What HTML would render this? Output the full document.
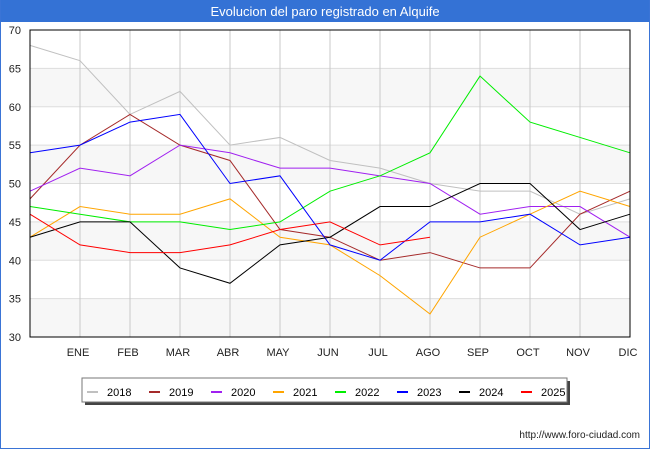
<!DOCTYPE html>
<html><head><meta charset="utf-8"><style>
body{margin:0;background:#fff;font-family:"Liberation Sans","DejaVu Sans",sans-serif;}
#wrap{position:relative;width:648px;height:448px;border:1px solid #3a74d6;border-top:none;}
#title{position:absolute;left:0;top:0;width:648px;height:22px;background:#3472d5;color:#fff;font-size:13px;text-align:center;line-height:23px;}
</style></head><body>
<div id="wrap">
<div id="title">Evolucion del paro registrado en Alquife</div>
<svg id="chart" width="650" height="450" style="position:absolute;left:-1px;top:0"></svg>
</div>
<script>
const months=["","ENE","FEB","MAR","ABR","MAY","JUN","JUL","AGO","SEP","OCT","NOV","DIC"];
const yTicks=[30,35,40,45,50,55,60,65,70];
const years=["2018","2019","2020","2021","2022","2023","2024","2025"];
const colors=["#c0c0c0","#a52a2a","#a020f0","#ffa500","#00ee00","#0000ff","#000000","#ff0000"];
const s2018=[68,66,59,62,55,56,53,52,50,49,49,46,48];
const s2019=[48,55,59,55,53,44,43,40,41,39,39,46,49];
const s2020=[49,52,51,55,54,52,52,51,50,46,47,47,43];
const s2021=[43,47,46,46,48,43,42,38,33,43,46,49,47];
const s2022=[47,46,45,45,44,45,49,51,54,64,58,56,54];
const s2023=[54,55,58,59,50,51,42,40,45,45,46,42,43];
const s2024=[43,45,45,39,37,42,43,47,47,50,50,44,46];
const s2025=[46,42,41,41,42,44,45,42,43];
const series=[s2018,s2019,s2020,s2021,s2022,s2023,s2024,s2025];
const L=30,R=630,T=30,B=337;
const x=i=>L+i*(R-L)/12;
const y=v=>B-(v-30)*(B-T)/40;
const svg=document.getElementById('chart');
const NS="http://www.w3.org/2000/svg";
function mk(t,a,p){const e=document.createElementNS(NS,t);for(const k in a)e.setAttribute(k,a[k]);(p||svg).appendChild(e);return e;}
for(let i=0;i<yTicks.length-1;i++){
  if(i%2===0){const r=mk('rect',{x:L,y:y(yTicks[i+1]),width:R-L,height:y(yTicks[i])-y(yTicks[i+1]),fill:'#f7f7f7'});
  
  }
}
yTicks.forEach(v=>{
  const g=mk('line',{x1:L,x2:R,y1:y(v),y2:y(v),stroke:'#dddddd','stroke-width':1});
  
  
  const t=mk('text',{x:L-9,y:y(v)+4,'text-anchor':'end','font-size':11,fill:'#222'});t.textContent=v;
  
  
});
months.forEach((m,i)=>{
  if(i===0)return;
  const g=mk('line',{x1:x(i),x2:x(i),y1:T,y2:B,stroke:'#c8c8c8','stroke-width':1});
  
  
  const t=mk('text',{x:x(i)-2,y:356,'text-anchor':'middle','font-size':11,fill:'#222'});t.textContent=m;
  
  
});
series.forEach((s,k)=>{
  const p=mk('polyline',{points:s.map((v,i)=>x(i)+','+y(v)).join(' '),fill:'none',stroke:colors[k],'stroke-width':1});
  
  
});
const ax=mk('rect',{x:L,y:T,width:R-L,height:B-T,fill:'none',stroke:'#000','stroke-width':1});


const lg=mk('g',{});


mk('rect',{x:85,y:381,width:485,height:24,fill:'#444'},lg);
mk('rect',{x:82,y:378,width:485,height:24,fill:'#fff',stroke:'#777','stroke-width':1},lg);
years.forEach((yr,k)=>{
  const ex=87+k*62;
  const g=mk('g',{},lg);
  
  
  mk('rect',{x:ex,y:391,width:11,height:2,fill:colors[k]},g);
  const t=mk('text',{x:ex+20,y:396,'font-size':11,fill:'#000'},g);t.textContent=yr;
});
const u=mk('text',{x:640,y:438,'text-anchor':'end','font-size':10,fill:'#222'});u.textContent='http://www.foro-ciudad.com';


</script>
</body></html>
